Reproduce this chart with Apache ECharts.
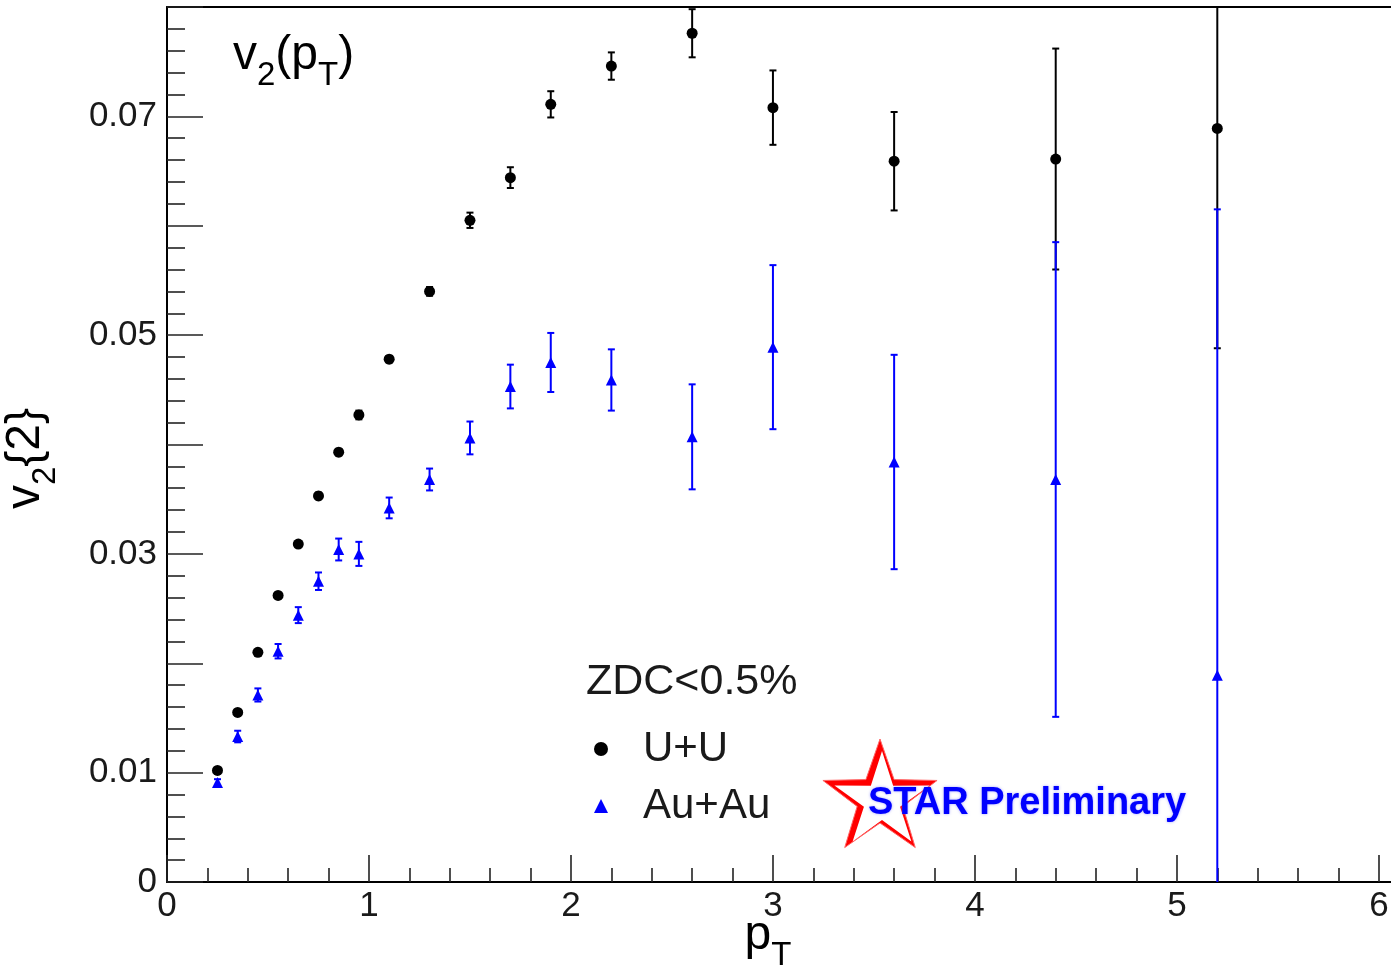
<!DOCTYPE html>
<html>
<head>
<meta charset="utf-8">
<script src="https://cdn.jsdelivr.net/npm/echarts@6/dist/echarts.min.js"></script>
<style>
  html, body { margin: 0; padding: 0; background: #ffffff; }
  #chart { width: 1391px; height: 966px; }
</style>
</head>
<body>
<div id="chart"></div>
<script>
// Transverse-momentum bins (GeV/c) shared by both systems
const pt = [0.25, 0.35, 0.45, 0.55, 0.65, 0.75, 0.85, 0.95, 1.1, 1.3, 1.5, 1.7, 1.9, 2.2, 2.6, 3.0, 3.6, 4.4, 5.2];

// v2{2} for U+U and its statistical uncertainty
const v2UU = [0.0102, 0.0155, 0.0210, 0.0262, 0.0309, 0.0353, 0.0393, 0.0427, 0.0478, 0.0540,
              0.0605, 0.0644, 0.0711, 0.0746, 0.0776, 0.0708, 0.0659, 0.0661, 0.0689];
const errUU = [0.0002, 0.0002, 0.0002, 0.0002, 0.0002, 0.0003, 0.0003, 0.0004, 0.0003, 0.0004,
               0.0007, 0.00095, 0.0012, 0.00125, 0.0022, 0.0034, 0.0045, 0.0101, 0.0201];

// v2{2} for Au+Au and its statistical uncertainty
const v2AuAu = [0.0091, 0.0133, 0.0171, 0.0211, 0.0244, 0.0275, 0.0304, 0.0300, 0.0342, 0.0368,
                0.0406, 0.0453, 0.0475, 0.0459, 0.0407, 0.0489, 0.0384, 0.0368, 0.0189];
const errAuAu = [0.0003, 0.00053, 0.0006, 0.00066, 0.00073, 0.0008, 0.001, 0.0011, 0.00095, 0.001,
                 0.0015, 0.002, 0.0027, 0.0028, 0.0048, 0.0075, 0.0098, 0.0217, 0.0426];

// Axis tick positions and labels
const xMajorTicks = [0, 1, 2, 3, 4, 5, 6];
const xMinorTicks = [0.2, 0.4, 0.6, 0.8, 1.2, 1.4, 1.6, 1.8, 2.2, 2.4, 2.6, 2.8, 3.2, 3.4, 3.6, 3.8,
                     4.2, 4.4, 4.6, 4.8, 5.2, 5.4, 5.6, 5.8];
const yLabelValues = [0, 0.01, 0.03, 0.05, 0.07];

const seriesNames = ['U+U', 'Au+Au'];
const legendHeader = 'ZDC<0.5%';
const logoText = 'STAR Preliminary';

const FONT = '"Liberation Sans", Arial, Helvetica, sans-serif';
const BLUE = '#0000ff';
const BLACK = '#000000';

const X_MAX = 6.06;

function scatterData(values) {
  return pt.map((x, i) => [x, values[i]]);
}
function errorData(values, errs) {
  return pt.map((x, i) => [x, values[i] - errs[i], values[i] + errs[i]]);
}

// Vertical error bar with small end caps
function errorBarRenderer(color) {
  return function (params, api) {
    const x = api.value(0);
    const lo = api.coord([x, api.value(1)]);
    const hi = api.coord([x, api.value(2)]);
    const cap = 3.5;
    const style = { stroke: color, lineWidth: 2 };
    return {
      type: 'group',
      children: [
        { type: 'line', shape: { x1: lo[0], y1: lo[1], x2: hi[0], y2: hi[1] }, style: style },
        { type: 'line', shape: { x1: lo[0] - cap, y1: lo[1], x2: lo[0] + cap, y2: lo[1] }, style: style },
        { type: 'line', shape: { x1: hi[0] - cap, y1: hi[1], x2: hi[0] + cap, y2: hi[1] }, style: style }
      ]
    };
  };
}

// Five-pointed star outline points
function starPoints(cx, cy, R, r) {
  const pts = [];
  for (let k = 0; k < 10; k++) {
    const ang = (-90 + k * 36) * Math.PI / 180;
    const rad = k % 2 === 0 ? R : r;
    pts.push([cx + rad * Math.cos(ang), cy + rad * Math.sin(ang)]);
  }
  return pts;
}

// Plain glyphs are centred in a tall line; subscripts sit at the line bottom
const LINE_H = 73;
const richSub = { fontSize: 33, fontFamily: FONT, color: BLACK, lineHeight: 33, verticalAlign: 'bottom' };

const chart = echarts.init(document.getElementById('chart'), null, { renderer: 'canvas' });

const option = {
  animation: false,
  backgroundColor: '#ffffff',
  grid: { left: 167, top: 7, right: 0, bottom: 84, containLabel: false, outerBoundsMode: 'none' },
  xAxis: [
    {
      type: 'value', position: 'bottom', min: 0, max: X_MAX,
      name: 'p{s|T}', nameLocation: 'middle', nameGap: 17, nameMoveOverlap: false,
      nameTextStyle: {
        fontSize: 48, fontFamily: FONT, color: BLACK, lineHeight: LINE_H,
        padding: [0, 22, 0, 0],
        rich: { s: richSub }
      },
      axisLine: { show: true, lineStyle: { color: BLACK, width: 2 } },
      axisTick: { show: true, inside: true, length: 27, customValues: xMajorTicks,
                  lineStyle: { color: '#222222', width: 1.6 } },
      axisLabel: { show: true, customValues: xMajorTicks, margin: 7, fontSize: 35,
                   fontFamily: FONT, color: '#1a1a1a',
                   formatter: v => String(Math.round(v)) },
      splitLine: { show: false }
    },
    {
      type: 'value', position: 'bottom', min: 0, max: X_MAX,
      axisLine: { show: false },
      axisTick: { show: true, inside: true, length: 14, customValues: xMinorTicks,
                  lineStyle: { color: '#222222', width: 1.6 } },
      axisLabel: { show: false },
      splitLine: { show: false }
    },
    {
      type: 'value', position: 'top', min: 0, max: X_MAX,
      axisLine: { show: true, lineStyle: { color: BLACK, width: 2 } },
      axisTick: { show: false },
      axisLabel: { show: false },
      splitLine: { show: false }
    }
  ],
  yAxis: {
    type: 'value', min: 0, max: 0.08, interval: 0.01,
    name: 'v{s|2}{2}', nameLocation: 'middle', nameGap: 105, nameMoveOverlap: false,
    nameTextStyle: {
      fontSize: 48, fontFamily: FONT, color: BLACK, lineHeight: LINE_H,
      padding: [0, 28, 0, 0],
      rich: { s: richSub }
    },
    axisLine: { show: true, lineStyle: { color: BLACK, width: 2 } },
    axisTick: { show: true, inside: true, length: 36, lineStyle: { color: '#222222', width: 1.6 } },
    minorTick: { show: true, splitNumber: 5, length: 18, lineStyle: { color: '#222222', width: 1.6 } },
    axisLabel: { show: true, customValues: yLabelValues, margin: 10, fontSize: 35,
                 fontFamily: FONT, color: '#1a1a1a',
                 formatter: v => (Math.abs(v) < 1e-9 ? '0' : v.toFixed(2)) },
    splitLine: { show: false },
    minorSplitLine: { show: false }
  },
  legend: {
    data: seriesNames,
    orient: 'vertical',
    left: 589, top: 721,
    itemWidth: 14, itemHeight: 14, itemGap: 11,
    selectedMode: false,
    textStyle: { fontSize: 42, fontFamily: FONT, color: '#1a1a1a', lineHeight: 46,
                 padding: [0, 0, 0, 30] }
  },
  graphic: [
    {
      type: 'text', left: 233, top: 19, z: 100,
      style: {
        text: 'v{s|2}(p{s|T})',
        fontSize: 48, fontFamily: FONT, fill: BLACK, lineHeight: LINE_H,
        rich: { s: richSub }
      }
    },
    {
      type: 'text', left: 586, top: 659, z: 100,
      style: { text: legendHeader, fontSize: 43, fontFamily: FONT, fill: '#1a1a1a', lineHeight: 46 }
    },
    {
      type: 'polygon', z: 90,
      shape: { points: starPoints(880, 799, 60, 24) },
      style: { fill: '#ff0000', stroke: '#ff6666', lineWidth: 1 }
    },
    {
      type: 'polygon', z: 91,
      shape: { points: starPoints(882, 801, 50, 19) },
      style: { fill: '#ffffff' }
    },
    {
      type: 'text', left: 868, top: 783, z: 100,
      style: {
        text: logoText,
        fontSize: 38, fontWeight: 'bold', fontFamily: FONT, fill: BLUE, lineHeight: 42,
        textShadowColor: 'rgba(110,110,255,0.6)', textShadowBlur: 3
      }
    }
  ],
  series: [
    {
      name: 'U+U err', type: 'custom', xAxisIndex: 0, yAxisIndex: 0, clip: true,
      renderItem: errorBarRenderer(BLACK),
      encode: { x: 0, y: [1, 2] },
      data: errorData(v2UU, errUU), silent: true
    },
    {
      name: seriesNames[0], type: 'scatter', xAxisIndex: 0, yAxisIndex: 0,
      symbol: 'circle', symbolSize: 11,
      itemStyle: { color: BLACK, opacity: 1 },
      data: scatterData(v2UU), silent: true
    },
    {
      name: 'Au+Au err', type: 'custom', xAxisIndex: 0, yAxisIndex: 0, clip: true,
      renderItem: errorBarRenderer(BLUE),
      encode: { x: 0, y: [1, 2] },
      data: errorData(v2AuAu, errAuAu), silent: true
    },
    {
      name: seriesNames[1], type: 'scatter', xAxisIndex: 0, yAxisIndex: 0,
      symbol: 'triangle', symbolSize: 11,
      itemStyle: { color: BLUE, opacity: 1 },
      data: scatterData(v2AuAu), silent: true
    }
  ]
};

chart.setOption(option);
</script>
</body>
</html>
